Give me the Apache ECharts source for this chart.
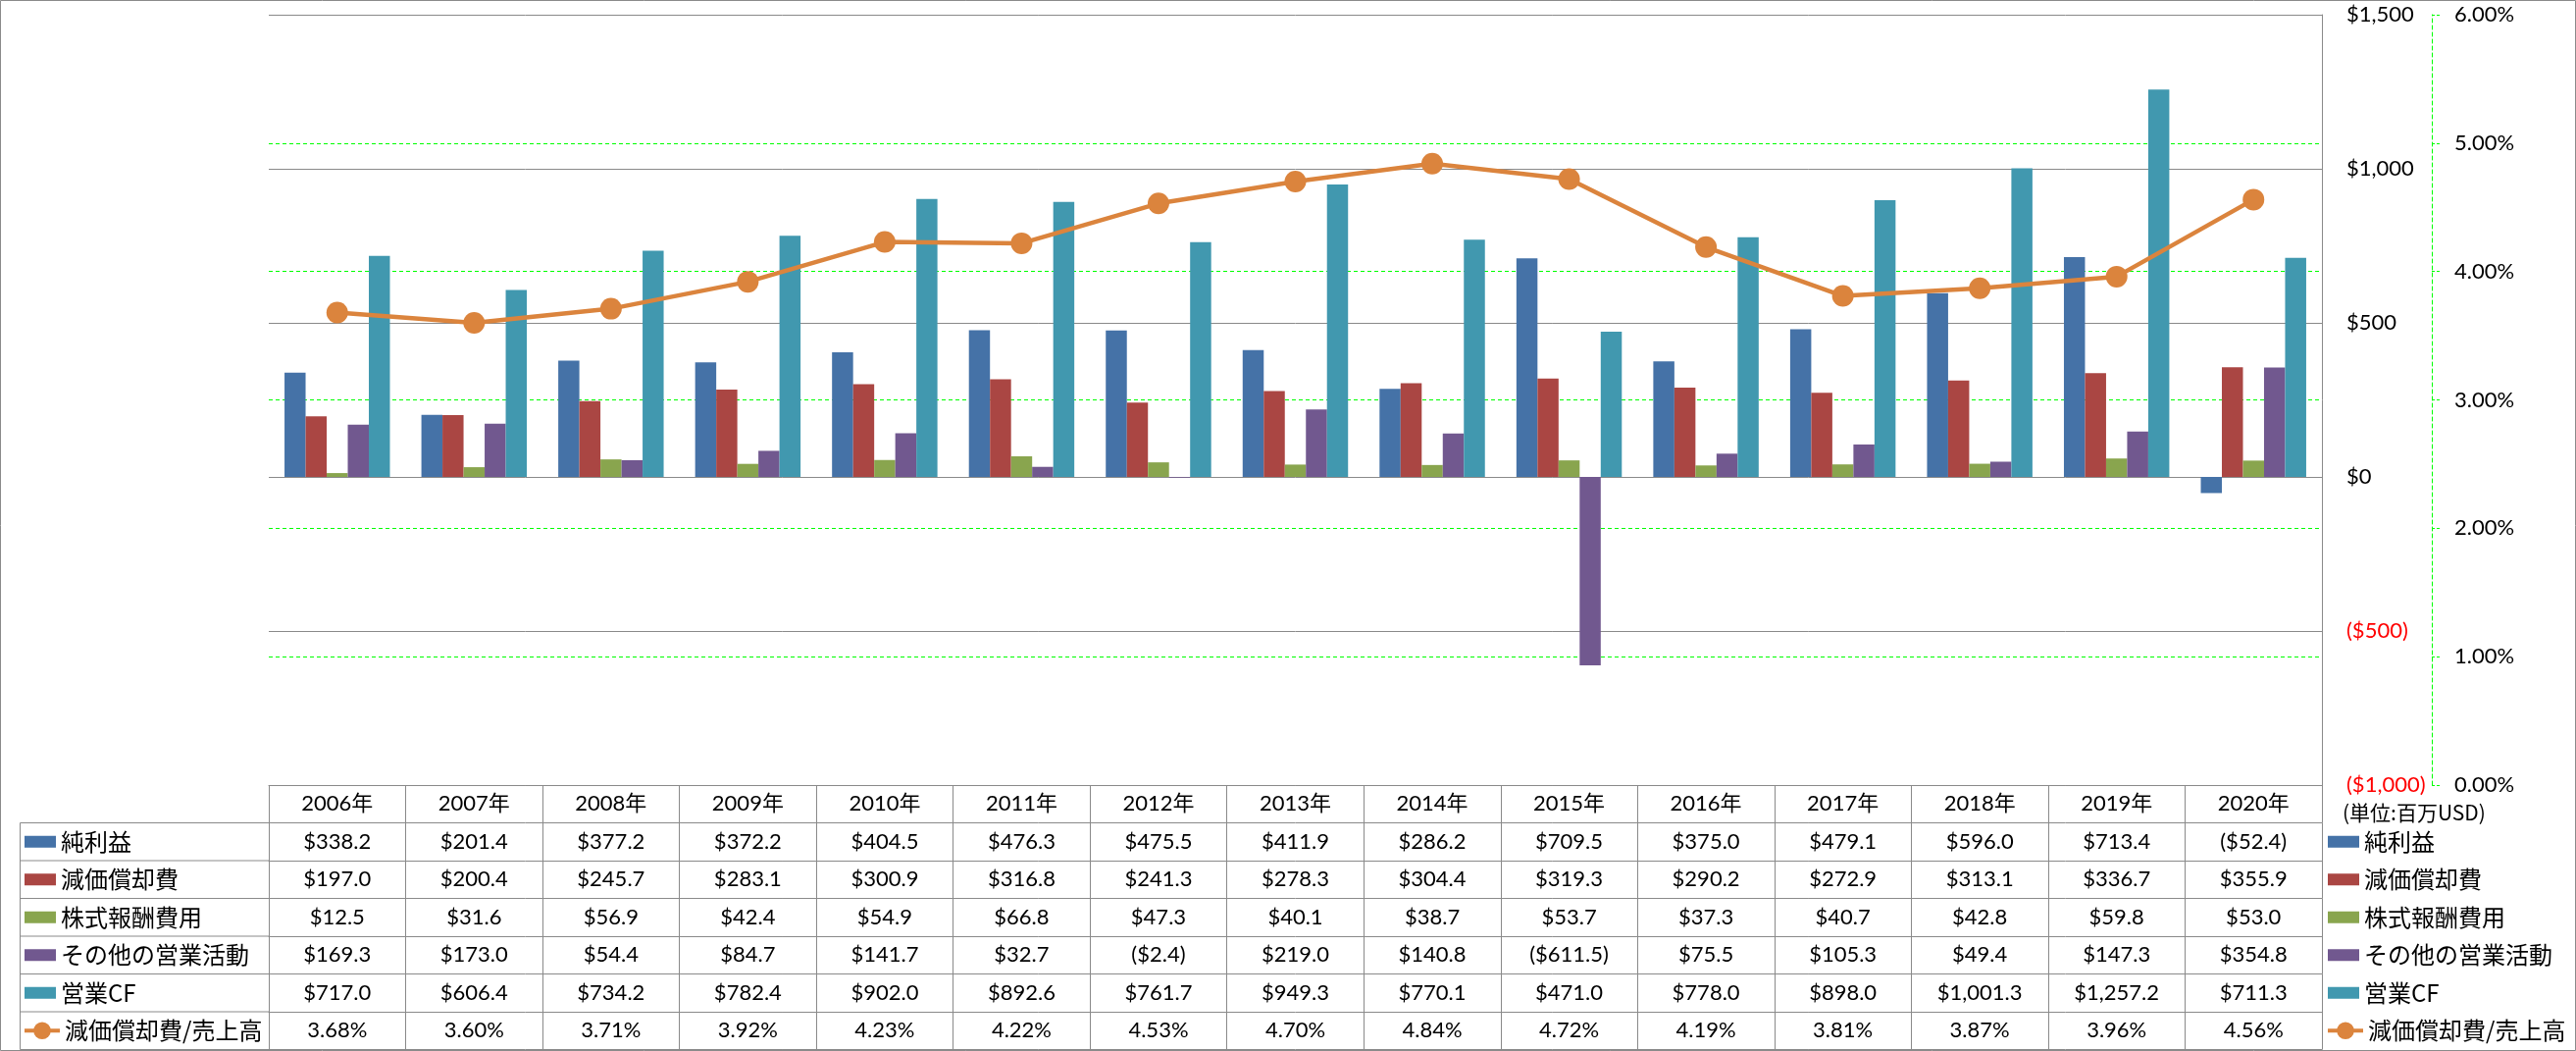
<!DOCTYPE html>
<html><head><meta charset="utf-8">
<script src="https://cdn.jsdelivr.net/npm/echarts@6/dist/echarts.min.js"></script>
<style>html,body{margin:0;padding:0;background:#fff}#c{width:2626px;height:1071px}</style>
</head><body><div id="c"></div>
<script>
// ---- data ----
const years = ['2006年','2007年','2008年','2009年','2010年','2011年','2012年','2013年','2014年','2015年','2016年','2017年','2018年','2019年','2020年'];
const seriesNames = ['純利益','減価償却費','株式報酬費用','その他の営業活動','営業CF','減価償却費/売上高'];
const netIncome    = [338.2, 201.4, 377.2, 372.2, 404.5, 476.3, 475.5, 411.9, 286.2, 709.5, 375.0, 479.1, 596.0, 713.4, -52.4];
const depreciation = [197.0, 200.4, 245.7, 283.1, 300.9, 316.8, 241.3, 278.3, 304.4, 319.3, 290.2, 272.9, 313.1, 336.7, 355.9];
const stockComp    = [12.5, 31.6, 56.9, 42.4, 54.9, 66.8, 47.3, 40.1, 38.7, 53.7, 37.3, 40.7, 42.8, 59.8, 53.0];
const otherOps     = [169.3, 173.0, 54.4, 84.7, 141.7, 32.7, -2.4, 219.0, 140.8, -611.5, 75.5, 105.3, 49.4, 147.3, 354.8];
const operatingCF  = [717.0, 606.4, 734.2, 782.4, 902.0, 892.6, 761.7, 949.3, 770.1, 471.0, 778.0, 898.0, 1001.3, 1257.2, 711.3];
const depToSales   = [3.68, 3.60, 3.71, 3.92, 4.23, 4.22, 4.53, 4.70, 4.84, 4.72, 4.19, 3.81, 3.87, 3.96, 4.56];
const dollarAxis = {min: -1000, max: 1500, interval: 500};
const pctAxis = {min: 0, max: 6, interval: 1};
const unitNote = '(単位:百万USD)';

// ---- style / layout ----
const colors = ['#4572A7', '#AA4643', '#89A54E', '#71588F', '#4198AF', '#DB843D'];
const gray = '#8A8A8A';
const lime = '#00FF00';
const latin = "Lato, 'Noto Sans CJK JP', sans-serif";
const cjk = "'Noto Sans CJK JP', sans-serif";
const W = 2626, H = 1071;
const gL = 274, gR = 2367, gT = 15, gB = 800;
const rowH = 38.5;

function money(v, dec) {
  const a = Math.abs(v).toLocaleString('en-US', {minimumFractionDigits: dec, maximumFractionDigits: dec});
  return v < 0 ? '($' + a + ')' : '$' + a;
}
const rowTexts = [
  years,
  netIncome.map(v => money(v, 1)),
  depreciation.map(v => money(v, 1)),
  stockComp.map(v => money(v, 1)),
  otherOps.map(v => money(v, 1)),
  operatingCF.map(v => money(v, 1)),
  depToSales.map(v => v.toFixed(2) + '%')
];

const xAxes = rowTexts.map((texts, k) => ({
  type: 'category', gridIndex: 0, position: 'bottom', offset: k * rowH, data: years,
  axisLine: {show: true, onZero: false, lineStyle: {color: gray, width: 1}},
  axisTick: {show: true, interval: 0, length: rowH, lineStyle: {color: gray, width: 1}},
  axisLabel: {show: true, interval: 0, margin: rowH / 2, verticalAlign: 'middle',
    formatter: (v, i) => texts[i], fontSize: 22, fontFamily: latin, color: '#000'},
  splitLine: {show: false}
}));
xAxes.push({
  type: 'category', gridIndex: 0, position: 'bottom', offset: 7 * rowH, data: years,
  axisLine: {show: true, onZero: false, lineStyle: {color: gray, width: 1}},
  axisTick: {show: false}, axisLabel: {show: false}, splitLine: {show: false}
});

const barSeries = [netIncome, depreciation, stockComp, otherOps, operatingCF].map((d, i) => ({
  type: 'bar', name: seriesNames[i], data: d, xAxisIndex: 0, yAxisIndex: 0,
  barGap: '0%', barCategoryGap: '23%', itemStyle: {color: colors[i]}
}));
const lineSeries = {
  type: 'line', name: seriesNames[5], data: depToSales, xAxisIndex: 0, yAxisIndex: 1,
  symbol: 'circle', symbolSize: 22, z: 10,
  lineStyle: {width: 4.5, color: colors[5]}, itemStyle: {color: colors[5]}
};

function legendBlock(names, left, top, iw, ih, icon) {
  const o = {
    orient: 'vertical', left: left, top: top, padding: 0, itemGap: 0,
    itemWidth: iw, itemHeight: ih, selectedMode: false,
    data: names.map(n => icon ? {name: n} : {name: n, lineStyle: {width: 4, color: colors[5]}}),
    textStyle: {fontSize: 24, lineHeight: rowH, fontFamily: cjk, color: '#000'}
  };
  if (icon) o.icon = icon;
  return o;
}

const graphics = [
  {type: 'rect', shape: {x: 0.5, y: 0.5, width: W - 1, height: H - 1}, style: {fill: 'none', stroke: gray, lineWidth: 1}, silent: true},
  {type: 'line', shape: {x1: 20.5, y1: gB + rowH, x2: 20.5, y2: gB + 7 * rowH}, style: {stroke: gray, lineWidth: 1}, silent: true}
];
for (let k = 1; k <= 7; k++) {
  graphics.push({type: 'line', shape: {x1: 20.5, y1: gB + k * rowH, x2: gL, y2: gB + k * rowH}, style: {stroke: gray, lineWidth: 1}, silent: true});
}

const option = {
  backgroundColor: '#fff',
  animation: false,
  title: {text: unitNote, left: 2388, top: 818, padding: 0,
    textStyle: {fontSize: 21, fontWeight: 'normal', fontFamily: cjk, color: '#000'}},
  grid: {left: gL, right: W - gR, top: gT, bottom: H - gB, containLabel: false, outerBoundsMode: 'none'},
  legend: [
    legendBlock(seriesNames.slice(0, 5), 25, gB + rowH, 32, 12, 'rect'),
    legendBlock([seriesNames[5]], 23, gB + 6 * rowH, 36, 22, null),
    legendBlock(seriesNames.slice(0, 5), 2373, gB + rowH, 32, 12, 'rect'),
    legendBlock([seriesNames[5]], 2371, gB + 6 * rowH, 36, 22, null)
  ],
  xAxis: xAxes,
  yAxis: [
    {type: 'value', position: 'right', min: dollarAxis.min, max: dollarAxis.max, interval: dollarAxis.interval,
      axisLine: {show: true, lineStyle: {color: gray, width: 1}}, axisTick: {show: false},
      splitLine: {show: true, lineStyle: {color: gray, width: 1}},
      axisLabel: {margin: 25, showMinLabel: true, showMaxLabel: true, fontSize: 22, fontFamily: latin,
        formatter: v => money(v, 0), color: v => (Number(v) < 0 ? '#FF0000' : '#000')}},
    {type: 'value', position: 'right', offset: 112, min: pctAxis.min, max: pctAxis.max, interval: pctAxis.interval,
      axisLine: {show: true, lineStyle: {color: lime, width: 1, type: [4, 3]}},
      axisTick: {show: true, length: 8, lineStyle: {color: lime, width: 1, type: [3, 2]}},
      splitLine: {show: true, lineStyle: {color: ['rgba(0,0,0,0)', lime, lime, lime, lime, lime, 'rgba(0,0,0,0)'], width: 1, type: [4, 3]}},
      axisLabel: {margin: 23, showMinLabel: true, showMaxLabel: true, fontSize: 22, fontFamily: latin, color: '#000',
        formatter: v => v.toFixed(2) + '%'}}
  ],
  series: [...barSeries, lineSeries],
  graphic: graphics
};

const chart = echarts.init(document.getElementById('c'), null, {renderer: 'canvas'});
chart.setOption(option);
</script>
</body></html>
